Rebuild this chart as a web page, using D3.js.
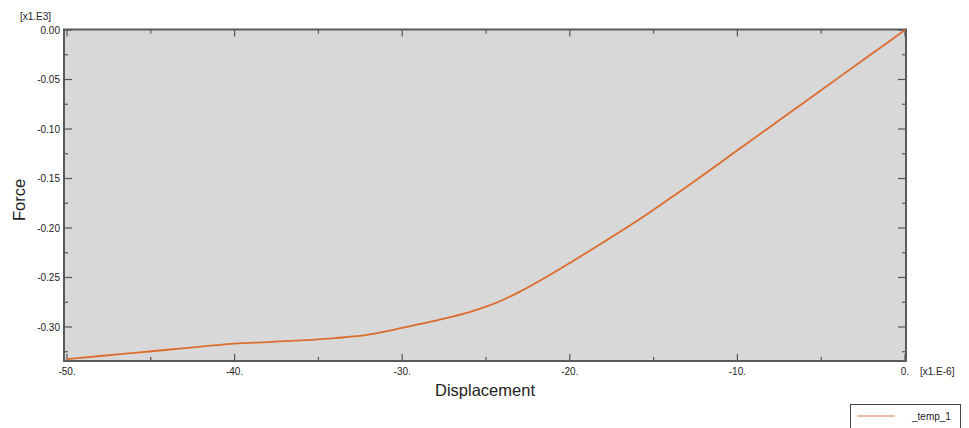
<!DOCTYPE html>
<html>
<head>
<meta charset="utf-8">
<script src="https://cdn.jsdelivr.net/npm/d3@7"></script>
<style>
  html, body { margin: 0; padding: 0; background: #ffffff; }
  svg { display: block; }
  text { font-family: "Liberation Sans", Arial, sans-serif; fill: #222; }
</style>
</head>
<body>
<svg id="chart" width="969" height="428"></svg>
<script>
// Force–displacement curve (displacement in 1e-6, force in 1e3)
const displacement = [-50, -48, -46, -44, -42, -40, -38, -36, -34, -32, -31, -30, -29, -28, -27, -26,
  -25, -24, -23, -22, -21, -20, -19, -18, -17, -16, -15, -14, -13, -12, -11, -10, -8, -6, -4, -2, 0];
const force = [-0.3325, -0.3293, -0.3262, -0.3230, -0.3198, -0.3168, -0.3152, -0.3135, -0.3112, -0.3078,
  -0.3045, -0.3008, -0.2972, -0.2935, -0.2895, -0.2850, -0.2795, -0.2727, -0.2645, -0.2553, -0.2455,
  -0.2353, -0.2249, -0.2144, -0.2038, -0.1930, -0.1816, -0.1698, -0.1580, -0.1460, -0.1338, -0.1215,
  -0.0972, -0.0729, -0.0486, -0.0243, 0];

const xTickValues = [-50, -40, -30, -20, -10, 0];
const xTickLabels = ["-50.", "-40.", "-30.", "-20.", "-10.", "0."];
const yTickValues = [0, -0.05, -0.10, -0.15, -0.20, -0.25, -0.30];
const yTickLabels = ["0.00", "-0.05", "-0.10", "-0.15", "-0.20", "-0.25", "-0.30"];
const seriesName = "_temp_1";

const svg = d3.select("#chart");

const x = d3.scaleLinear().domain([-50, 0]).range([67, 905]);
const y = d3.scaleLinear().domain([0, -0.30]).range([30, 327]);

const frame = { left: 64, right: 906, top: 29.5, bottom: 361 };

// plot background
svg.append("rect")
  .attr("x", frame.left).attr("y", frame.top)
  .attr("width", frame.right - frame.left).attr("height", frame.bottom - frame.top)
  .attr("fill", "#d8d8d8");

// tick marks (all pointing inward) on every side
const ticks = svg.append("g").attr("stroke", "#555").attr("stroke-width", 1.2);
const xMinor = d3.range(-45, 0, 10);
const yMinor = d3.range(-0.025, -0.34, -0.05);

xTickValues.forEach(v => {
  ticks.append("line").attr("x1", x(v)).attr("x2", x(v)).attr("y1", frame.bottom).attr("y2", frame.bottom - 7);
  ticks.append("line").attr("x1", x(v)).attr("x2", x(v)).attr("y1", frame.top).attr("y2", frame.top + 7);
});
xMinor.forEach(v => {
  ticks.append("line").attr("x1", x(v)).attr("x2", x(v)).attr("y1", frame.bottom).attr("y2", frame.bottom - 4);
  ticks.append("line").attr("x1", x(v)).attr("x2", x(v)).attr("y1", frame.top).attr("y2", frame.top + 4);
});
yTickValues.forEach(v => {
  ticks.append("line").attr("x1", frame.left - 1).attr("x2", frame.left + 8).attr("y1", y(v)).attr("y2", y(v));
  ticks.append("line").attr("x1", frame.right).attr("x2", frame.right - 8).attr("y1", y(v)).attr("y2", y(v));
});
yMinor.forEach(v => {
  ticks.append("line").attr("x1", frame.left).attr("x2", frame.left + 4).attr("y1", y(v)).attr("y2", y(v));
  ticks.append("line").attr("x1", frame.right).attr("x2", frame.right - 4).attr("y1", y(v)).attr("y2", y(v));
});

// frame
svg.append("rect")
  .attr("x", frame.left).attr("y", frame.top)
  .attr("width", frame.right - frame.left).attr("height", frame.bottom - frame.top)
  .attr("fill", "none").attr("stroke", "#5a5a5a").attr("stroke-width", 2);

// curve
const line = d3.line().x((d, i) => x(displacement[i])).y(d => y(d)).curve(d3.curveMonotoneX);
svg.append("path")
  .datum(force)
  .attr("d", line)
  .attr("fill", "none")
  .attr("stroke", "#dc6c2c")
  .attr("stroke-width", 1.8);

// tick labels
svg.append("g").selectAll("text").data(xTickValues).join("text")
  .attr("x", d => x(d)).attr("y", 375)
  .attr("text-anchor", "middle").attr("font-size", 10)
  .text((d, i) => xTickLabels[i]);

svg.append("g").selectAll("text").data(yTickValues).join("text")
  .attr("x", 60).attr("y", d => y(d) + 3.5)
  .attr("text-anchor", "end").attr("font-size", 10)
  .text((d, i) => yTickLabels[i]);

// scale factor annotations
svg.append("text").attr("x", 20).attr("y", 20).attr("font-size", 10).text("[x1.E3]");
svg.append("text").attr("x", 920).attr("y", 375).attr("font-size", 10).text("[x1.E-6]");

// axis titles
svg.append("text").attr("x", 485).attr("y", 396).attr("text-anchor", "middle")
  .attr("font-size", 16.5).text("Displacement");
svg.append("text").attr("transform", "translate(25,200) rotate(-90)").attr("text-anchor", "middle")
  .attr("font-size", 16.5).text("Force");

// legend
const legend = svg.append("g");
legend.append("rect").attr("x", 850.5).attr("y", 404.5).attr("width", 110).attr("height", 30)
  .attr("fill", "#fff").attr("stroke", "#444").attr("stroke-width", 1);
legend.append("line").attr("x1", 857).attr("x2", 895).attr("y1", 416).attr("y2", 416)
  .attr("stroke", "#e8a27c").attr("stroke-width", 1.5);
legend.append("text").attr("x", 912).attr("y", 420).attr("font-size", 10).text(seriesName);
</script>
</body>
</html>
